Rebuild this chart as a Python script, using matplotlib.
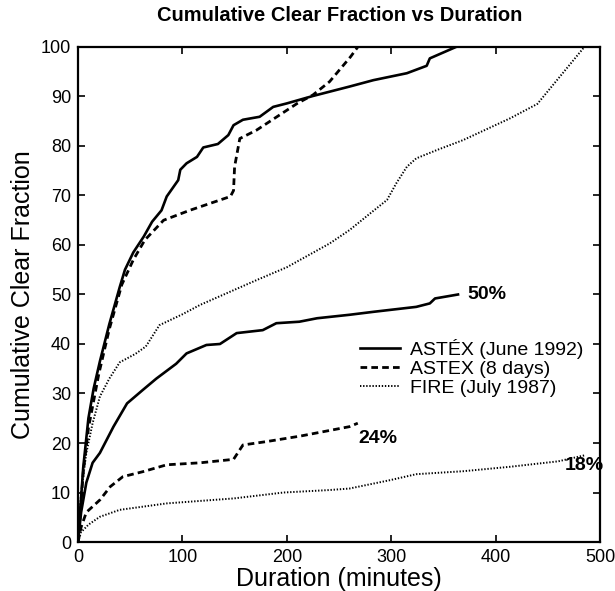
import matplotlib
matplotlib.use("Agg")
import matplotlib.pyplot as plt

plt.rcParams["font.family"] = ["Liberation Sans", "DejaVu Sans"]

# ASTEX (June 1992) -- upper curve normalised to 100, lower one raw fraction
astex_norm_t = [0, 2, 5, 10, 15, 21, 30, 40, 45, 53, 63, 71, 80, 85, 96, 98, 104,
                114, 120, 134, 144, 149, 158, 174, 187, 200, 225, 260, 283, 315,
                334, 337, 362]
astex_norm_v = [0, 6, 15, 25, 31, 36.5, 44, 51.5, 55, 58.5, 61.7, 64.7, 67, 69.8,
                73.1, 75.2, 76.5, 77.8, 79.7, 80.4, 82.2, 84.2, 85.3, 85.9, 87.9,
                88.6, 90.1, 92, 93.3, 94.7, 96.2, 97.7, 100]
astex_raw_t = [0, 3, 8, 14, 21, 34, 47, 62, 75, 94, 104, 123, 136, 152, 177, 190,
               212, 229, 260, 283, 324, 337, 342, 364]
astex_raw_v = [0, 6, 12, 16, 18, 23.3, 28, 30.7, 33, 36, 38.1, 39.8, 40, 42.2,
               42.8, 44.2, 44.5, 45.2, 45.9, 46.5, 47.5, 48.2, 49.2, 50]

# ASTEX (8 days)
astex8_norm_t = [0, 2, 5, 10, 20, 30, 42, 53, 64, 82, 107, 146, 149, 150, 155,
                 171, 210, 225, 241, 261, 268]
astex8_norm_v = [0, 5, 14, 23, 34, 43, 52, 57, 61, 65, 67, 69.8, 71, 75.8, 81.5,
                 83.2, 88.6, 90.3, 93, 98, 100]
astex8_raw_t = [0, 3, 8, 21, 31, 43, 62, 85, 117, 149, 158, 181, 213, 260, 268]
astex8_raw_v = [0, 3, 6, 8.5, 11.2, 13.2, 14.2, 15.6, 16, 16.7, 19.6, 20.3, 21.4,
                23.3, 24]

# FIRE (July 1987)
fire_norm_t = [0, 3, 8, 14, 21, 30, 40, 55, 65, 78, 100, 117, 171, 200, 241, 260,
               280, 296, 305, 315, 324, 344, 369, 414, 440, 485]
fire_norm_v = [0, 10, 18, 24, 29.4, 33, 36.3, 38, 39.5, 43.8, 46, 47.9, 52.9, 55.5,
               60.3, 63, 66.4, 69.1, 72.5, 75.8, 77.5, 79.2, 81.2, 85.6, 88.5, 100]
fire_raw_t = [0, 3, 10, 21, 40, 85, 149, 197, 241, 260, 299, 324, 369, 414, 460, 485]
fire_raw_v = [0, 2, 3.5, 5.1, 6.5, 7.8, 8.8, 10, 10.5, 10.8, 12.5, 13.7, 14.3, 15.2,
              16.3, 17.5]

series_names = ["ASTÉX (June 1992)", "ASTEX (8 days)", "FIRE (July 1987)"]
final_labels = ["50%", "24%", "18%"]
final_pos = [(373, 50), (269, 21), (466, 15.5)]

fig = plt.figure(figsize=(6.15, 5.91), dpi=100)
ax = fig.add_axes([0.1268, 0.0829, 0.8488, 0.8376])

solid = dict(color="black", lw=1.9, ls="-")
dashed = dict(color="black", lw=2.0, ls=(0, (2.4, 1.5)))
dotted = dict(color="black", lw=1.4, ls=(0, (0.7, 0.9)))
styles = [solid, dashed, dotted]

ax.plot(astex_norm_t, astex_norm_v, **solid)
ax.plot(astex8_norm_t, astex8_norm_v, **dashed)
ax.plot(fire_norm_t, fire_norm_v, **dotted)
ax.plot(astex_raw_t, astex_raw_v, **solid)
ax.plot(astex8_raw_t, astex8_raw_v, **dashed)
ax.plot(fire_raw_t, fire_raw_v, **dotted)

for txt, (x, y) in zip(final_labels, final_pos):
    ax.text(x, y, txt, fontsize=14, fontweight="bold", ha="left", va="center")

# hand-built legend: rows sit closer together than ax.legend allows
for i, (name, st) in enumerate(zip(series_names, styles)):
    y = 0.392 - i * 0.0384
    ax.plot([0.540, 0.617], [y, y], transform=ax.transAxes, **st)
    ax.text(0.636, y - 0.0142, name, transform=ax.transAxes, fontsize=14,
            ha="left", va="baseline")

ax.set_xlim(0, 500)
ax.set_ylim(0, 100)
ax.set_xticks(range(0, 501, 100))
ax.set_yticks(range(0, 101, 10))
ax.tick_params(direction="in", length=5, width=1.2, labelsize=13,
               top=True, right=True, pad=5)
for s in ax.spines.values():
    s.set_linewidth(1.6)

ax.set_xlabel("Duration (minutes)", fontsize=18, labelpad=1)
ax.set_ylabel("Cumulative Clear Fraction", fontsize=18, labelpad=4)
fig.text(0.553, 0.974, "Cumulative Clear Fraction vs Duration",
         fontsize=14.5, fontweight="bold", ha="center", va="center")

fig.savefig("out.png", dpi=100)
